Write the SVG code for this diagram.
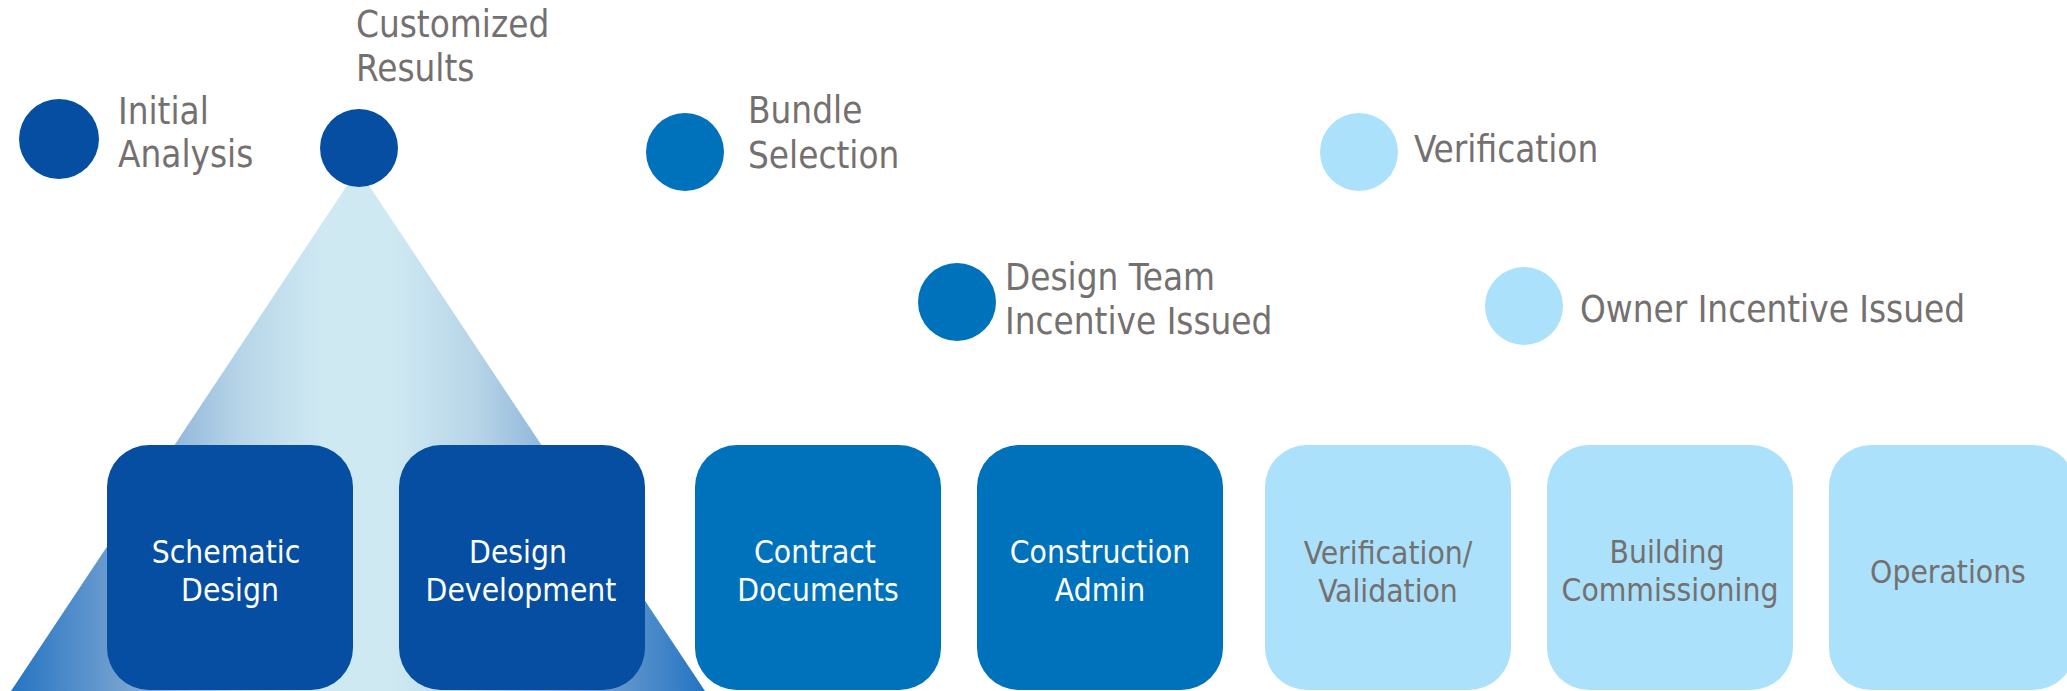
<svg xmlns="http://www.w3.org/2000/svg" width="2067" height="691" viewBox="0 0 2067 691">
  <style>
    .lbl { font-family: 'DejaVu Sans Condensed', 'DejaVu Sans', sans-serif; font-stretch: condensed; font-size: 36.5px; fill: #757070; }
    .box-t { font-family: 'DejaVu Sans Condensed', 'DejaVu Sans', sans-serif; font-stretch: condensed; font-size: 31.5px; text-anchor: middle; }
    .dark { fill: #054EA2; }
    .mid { fill: #0071BB; }
    .light { fill: #ABE1FA; }
    .on-dark { fill: #FFFFFF; }
    .on-light { fill: #757070; }
  </style>
  <defs>
    <linearGradient id="fan" gradientUnits="userSpaceOnUse" x1="11" y1="0" x2="705" y2="0">
      <stop offset="0" stop-color="#2474C2"/>
      <stop offset="0.18" stop-color="#7DA6D2"/>
      <stop offset="0.33" stop-color="#B7D5E8"/>
      <stop offset="0.45" stop-color="#CFE9F3"/>
      <stop offset="0.55" stop-color="#CFE9F3"/>
      <stop offset="0.67" stop-color="#B7D5E8"/>
      <stop offset="0.82" stop-color="#7DA6D2"/>
      <stop offset="1" stop-color="#2474C2"/>
    </linearGradient>
  </defs>
  <rect width="2067" height="691" fill="#FFFFFF"/>

  <!-- fan spreading from the Customized Results milestone -->
  <g id="fan-shape">
    <polygon points="358,169 705,691 11,691" fill="url(#fan)"/>
  </g>

  <g id="connectors"></g>

  <!-- milestones -->
  <g id="m-initial">
    <circle class="dark" cx="59" cy="139" r="40"/>
    <text class="lbl" x="118" y="124">Initial</text>
    <text class="lbl" x="118" y="167">Analysis</text>
  </g>
  <g id="m-customized">
    <circle class="dark" cx="359" cy="148" r="39"/>
    <text class="lbl" x="356" y="37">Customized</text>
    <text class="lbl" x="356" y="81">Results</text>
  </g>
  <g id="m-bundle">
    <circle class="mid" cx="685" cy="152" r="39"/>
    <text class="lbl" x="748" y="123">Bundle</text>
    <text class="lbl" x="748" y="168">Selection</text>
  </g>
  <g id="m-design-team">
    <circle class="mid" cx="957" cy="302" r="39"/>
    <text class="lbl" x="1005" y="290">Design Team</text>
    <text class="lbl" x="1005" y="334">Incentive Issued</text>
  </g>
  <g id="m-verification">
    <circle class="light" cx="1359" cy="152" r="39"/>
    <text class="lbl" x="1414" y="162">Verification</text>
  </g>
  <g id="m-owner">
    <circle class="light" cx="1524" cy="306" r="39"/>
    <text class="lbl" x="1580" y="322">Owner Incentive Issued</text>
  </g>

  <!-- phases -->
  <g id="p-schematic">
    <rect class="dark" x="107" y="445" width="246" height="245" rx="42" ry="42"/>
    <text class="box-t on-dark" x="226" y="563">Schematic</text>
    <text class="box-t on-dark" x="230" y="601">Design</text>
  </g>
  <g id="p-design-dev">
    <rect class="dark" x="399" y="445" width="246" height="245" rx="42" ry="42"/>
    <text class="box-t on-dark" x="518" y="563">Design</text>
    <text class="box-t on-dark" x="521" y="601">Development</text>
  </g>
  <g id="p-contract">
    <rect class="mid" x="695" y="445" width="246" height="245" rx="42" ry="42"/>
    <text class="box-t on-dark" x="815" y="563">Contract</text>
    <text class="box-t on-dark" x="818" y="601">Documents</text>
  </g>
  <g id="p-construction">
    <rect class="mid" x="977" y="445" width="246" height="245" rx="42" ry="42"/>
    <text class="box-t on-dark" x="1100" y="563">Construction</text>
    <text class="box-t on-dark" x="1100" y="601">Admin</text>
  </g>
  <g id="p-verification">
    <rect class="light" x="1265" y="445" width="246" height="245" rx="42" ry="42"/>
    <text class="box-t on-light" x="1388" y="564">Verification/</text>
    <text class="box-t on-light" x="1388" y="602">Validation</text>
  </g>
  <g id="p-commissioning">
    <rect class="light" x="1547" y="445" width="246" height="245" rx="42" ry="42"/>
    <text class="box-t on-light" x="1667" y="563">Building</text>
    <text class="box-t on-light" x="1670" y="601">Commissioning</text>
  </g>
  <g id="p-operations">
    <rect class="light" x="1829" y="445" width="246" height="245" rx="42" ry="42"/>
    <text class="box-t on-light" x="1948" y="583">Operations</text>
  </g>
</svg>
